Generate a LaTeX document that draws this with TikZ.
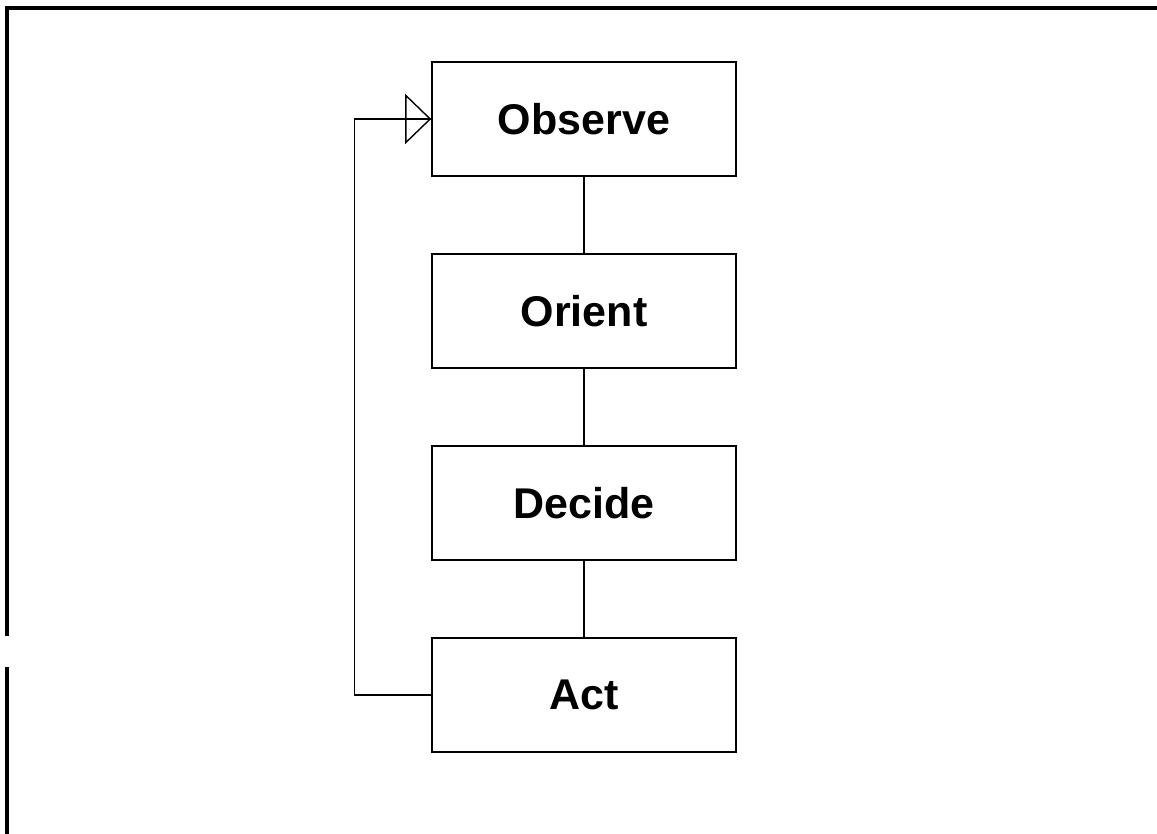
\documentclass[tikz,border=0pt]{standalone}
\usepackage{fontspec}
\setmainfont{Liberation Sans}
\usetikzlibrary{arrows.meta,positioning}
\tikzset{
    block/.style = {draw, rectangle, line width=0.8pt,
        minimum height=57pt,
        minimum width=152pt, align=center,
        font=\fontsize{21.5}{25}\selectfont\bfseries},
    link/.style = {draw, line width=0.7pt},
    frame/.style = {draw, line width=1.6pt}
}
\begin{document}
\begin{tikzpicture}[x=0.5pt,y=-0.5pt,node distance=96pt]
        \useasboundingbox (0,0) rectangle (1157,834);
        \draw [frame] (7,834) -- (7,667);
        \draw [frame] (7,636) -- (7,8) -- (1157,8);
        \node [block] (observe) at (584,119) {Observe};
        \node [block, below of=observe] (orient) {Orient};
        \node [block, below of=orient] (decide) {Decide};
        \node [block, below of=decide] (act) {Act};
        \draw [link] (observe) -- (orient);
        \draw [link] (orient) -- (decide);
        \draw [link] (decide) -- (act);
        \draw [link, -{Triangle[open, length=13pt, width=25pt]}] ([xshift=-30pt]observe.west) -- (observe.west);
        \draw [link] (act.west) -- ++(-77,0) |- (observe.west);
\end{tikzpicture}
\end{document}
